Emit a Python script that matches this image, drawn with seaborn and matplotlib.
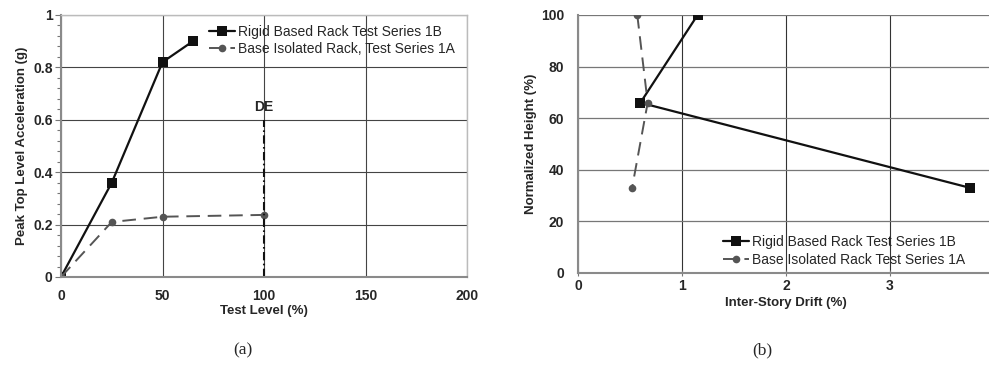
import matplotlib
matplotlib.use("Agg")
import matplotlib.pyplot as plt
from matplotlib.ticker import MultipleLocator, FuncFormatter
import seaborn as sns
import pandas as pd

# Panel (a): peak top-level acceleration vs. test level
test_level_rigid = [0, 25, 50, 65]
accel_rigid = [0.0, 0.36, 0.82, 0.90]
test_level_iso = [0, 25, 50, 100]
accel_iso = [0.0, 0.21, 0.23, 0.237]
de_level = 100
de_top = 0.6

# Panel (b): inter-story drift profile
height_pct = [100, 66, 33]
drift_rigid = [1.15, 0.60, 3.77]
drift_iso = [0.57, 0.67, 0.52]

label_rigid = "Rigid Based Rack Test Series 1B"
label_iso_a = "Base Isolated Rack, Test Series 1A"
label_iso_b = "Base Isolated Rack Test Series 1A"

sns.set_theme(style="white")
plt.rcParams["font.family"] = ["Liberation Sans", "DejaVu Sans"]

BLACK = "#111111"
GREY = "#555555"
SPINE = "#8a8a8a"
LABEL_SIZE = 9.5

fig = plt.figure(figsize=(9.89, 3.65), dpi=100)
ax1 = fig.add_axes([61 / 989, 1 - 277 / 365, 406 / 989, 262 / 365])
ax2 = fig.add_axes([578 / 989, 1 - 273 / 365, 416 / 989, 258 / 365])

fmt = FuncFormatter(lambda v, p: f"{v:g}")

# ---- panel (a)
df_r = pd.DataFrame({"x": test_level_rigid, "y": accel_rigid})
df_i = pd.DataFrame({"x": test_level_iso, "y": accel_iso})
sns.lineplot(data=df_r, x="x", y="y", ax=ax1, color=BLACK, lw=1.6,
             marker="s", markersize=6.5, markeredgewidth=0, label=label_rigid,
             sort=False)
sns.lineplot(data=df_i, x="x", y="y", ax=ax1, color=GREY, lw=1.4,
             marker="o", markersize=5.5, markeredgewidth=0, label=label_iso_a,
             sort=False, dashes=False)
ax1.lines[-1].set_dashes([7, 4])
ax1.plot([de_level, de_level], [0, de_top], color=BLACK, lw=1.5,
         dashes=[4, 1.6, 0.8, 1.6])
ax1.text(de_level, de_top + 0.05, "DE", ha="center", va="center",
         fontsize=10, fontweight="bold")

ax1.set_xlim(0, 200)
ax1.set_ylim(0, 1)
ax1.xaxis.set_major_locator(MultipleLocator(50))
ax1.yaxis.set_major_locator(MultipleLocator(0.2))
ax1.yaxis.set_minor_locator(MultipleLocator(0.04))
ax1.yaxis.set_major_formatter(fmt)
ax1.grid(True, which="major", color="#444444", lw=0.8)
ax1.set_axisbelow(True)
for s in ["top", "right"]:
    ax1.spines[s].set_color("#bbbbbb")
    ax1.spines[s].set_linewidth(1.0)
for s in ["left", "bottom"]:
    ax1.spines[s].set_color(SPINE)
    ax1.spines[s].set_linewidth(1.5)
ax1.tick_params(axis="y", which="minor", left=True, length=3, width=0.8,
                color="#777777", direction="out")
ax1.tick_params(axis="y", which="major", left=True, length=4, width=0.8,
                color="#777777", direction="out", pad=2)
ax1.tick_params(axis="x", which="major", bottom=False, pad=3)
ax1.set_xlabel("Test Level (%)", fontsize=LABEL_SIZE, fontweight="bold",
               labelpad=1)
ax1.set_ylabel("Peak Top Level Acceleration (g)", fontsize=LABEL_SIZE,
               fontweight="bold", labelpad=4)
ax1.legend(loc="upper left", bbox_to_anchor=(0.34, 1.0), frameon=False,
           fontsize=10, handlelength=1.9, handletextpad=0.2,
           labelspacing=0.25, borderaxespad=0.3)

# ---- panel (b)
df_rb = pd.DataFrame({"x": drift_rigid, "y": height_pct})
df_ib = pd.DataFrame({"x": drift_iso, "y": height_pct})
sns.lineplot(data=df_rb, x="x", y="y", ax=ax2, color=BLACK, lw=1.6,
             marker="s", markersize=6.5, markeredgewidth=0, label=label_rigid,
             sort=False)
sns.lineplot(data=df_ib, x="x", y="y", ax=ax2, color=GREY, lw=1.4,
             marker="o", markersize=5.5, markeredgewidth=0, label=label_iso_b,
             sort=False, dashes=False)
ax2.lines[-1].set_dashes([7, 4])

ax2.set_xlim(0, 4)
ax2.set_ylim(0, 100)
ax2.xaxis.set_major_locator(MultipleLocator(1))
ax2.yaxis.set_major_locator(MultipleLocator(20))
ax2.xaxis.set_major_formatter(fmt)
ax2.grid(True, axis="y", color="#777777", lw=0.9)
ax2.grid(True, axis="x", color="#333333", lw=0.8)
ax2.set_axisbelow(True)
for s in ["top", "right"]:
    ax2.spines[s].set_visible(False)
for s in ["left", "bottom"]:
    ax2.spines[s].set_color(SPINE)
    ax2.spines[s].set_linewidth(1.5)
ax2.tick_params(axis="x", bottom=True, length=5, width=0.8, color="#777777",
                direction="inout", pad=2)
ax2.tick_params(axis="y", left=False, pad=4)
ax2.set_xlabel("Inter-Story Drift (%)", fontsize=LABEL_SIZE,
               fontweight="bold", labelpad=3)
ax2.set_ylabel("Normalized Height (%)", fontsize=LABEL_SIZE,
               fontweight="bold", labelpad=3)
ax2.legend(loc="upper left", bbox_to_anchor=(0.325, 0.185), frameon=False,
           fontsize=10, handlelength=1.9, handletextpad=0.2,
           labelspacing=0.3, borderaxespad=0.3)

for ax in (ax1, ax2):
    for lab in ax.get_xticklabels() + ax.get_yticklabels():
        lab.set_fontsize(10)
        lab.set_fontweight("bold")

fig.text(243 / 989, 1 - 350 / 365, "(a)", ha="center", va="center",
         fontsize=12.5, family=["Liberation Serif", "DejaVu Serif"])
fig.text(762 / 989, 1 - 350 / 365, "(b)", ha="center", va="center",
         fontsize=12.5, family=["Liberation Serif", "DejaVu Serif"])

fig.savefig("out.png", dpi=100)
